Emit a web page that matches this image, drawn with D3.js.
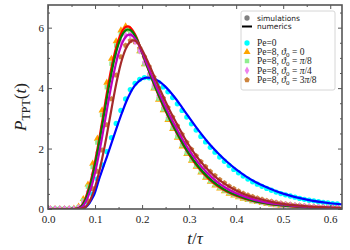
<!DOCTYPE html>
<html><head><meta charset="utf-8">
<script src="https://cdn.jsdelivr.net/npm/d3@7"></script>
<style>body{margin:0;background:#fff}svg{display:block}</style>
</head><body><svg id="c" width="350" height="250"></svg>
<script>
// ---------- data ----------
const tNum = [0,0.05,0.055,0.06,0.065,0.07,0.075,0.08,0.085,0.09,0.095,0.1,0.105,0.11,0.115,0.12,0.125,0.13,0.135,0.14,0.145,0.15,0.155,0.16,0.165,0.17,0.175,0.18,0.185,0.19,0.195,0.2,0.21,0.22,0.23,0.24,0.25,0.26,0.27,0.28,0.29,0.3,0.32,0.34,0.36,0.38,0.4,0.42,0.44,0.46,0.48,0.5,0.55,0.6,0.625];
const numPe0 = [0,0,0,0,0, 0.005,0.02,0.06,0.13,0.24,0.38,0.55,0.8,1.05,1.28, 1.5,1.72,1.95,2.18,2.41,2.64,2.87,3.09,3.3,3.5, 3.68,3.84,3.98,4.09,4.18,4.25,4.3, 4.35,4.34,4.28,4.18,4.04,3.87,3.68,3.47,3.25,3.03, 2.6,2.21,1.87,1.57,1.31,1.09,0.9,0.75,0.62,0.51, 0.31,0.19,0.15];
const numTh0 = [0,0,0,0.01,0.03, 0.09,0.2,0.37,0.6,0.87,1.2,1.57,1.98,2.42,2.88, 3.35,3.82,4.27,4.68,5.04,5.35,5.6,5.8,5.94,6.02, 6.04,6.0,5.91,5.78,5.61,5.4,5.18, 4.75,4.34,3.95,3.58,3.24,2.92,2.62,2.33,2.05,1.8, 1.36,1.02,0.77,0.58,0.44,0.33,0.25,0.19,0.14,0.11, 0.055,0.03,0.02];
const numTh1 = [0,0,0,0.005,0.025, 0.07,0.17,0.32,0.53,0.79,1.1,1.46,1.86,2.29,2.74, 3.2,3.66,4.1,4.51,4.88,5.2,5.46,5.67,5.82,5.91, 5.94,5.92,5.85,5.73,5.58,5.39,5.18, 4.76,4.36,3.97,3.61,3.27,2.95,2.65,2.36,2.08,1.83, 1.4,1.06,0.8,0.6,0.46,0.35,0.26,0.2,0.15,0.115, 0.06,0.03,0.022];
const numTh2 = [0,0,0,0,0.015, 0.045,0.11,0.23,0.4,0.62,0.89,1.2,1.56,1.95,2.37, 2.81,3.26,3.7,4.12,4.5,4.85,5.14,5.38,5.57,5.69, 5.76,5.77,5.73,5.64,5.52,5.37,5.2, 4.82,4.44,4.07,3.72,3.38,3.06,2.76,2.47,2.2,1.95, 1.52,1.17,0.89,0.68,0.52,0.4,0.3,0.23,0.18,0.14, 0.07,0.035,0.025];
const numTh3 = [0,0,0,0,0, 0.01,0.03,0.07,0.16,0.3,0.49,0.72,1.0,1.31,1.66, 2.04,2.45,2.88,3.31,3.74,4.14,4.5,4.82,5.08,5.29, 5.44,5.53,5.58,5.57,5.51,5.41,5.27, 4.95,4.6,4.24,3.89,3.55,3.23,2.93,2.64,2.36,2.1, 1.66,1.3,1.01,0.79,0.61,0.47,0.37,0.29,0.22,0.17, 0.09,0.05,0.035];

const tSim = [0.005,0.015,0.025,0.035,0.045,0.055,0.065,0.075,0.085,0.095,
  0.105,0.115,0.125,0.135,0.145,0.155,0.165,0.175,0.185,0.195,
  0.205,0.215,0.225,0.235,0.245,0.255,0.265,0.275,0.285,0.295,
  0.305,0.315,0.325,0.335,0.345,0.355,0.365,0.375,0.385,0.395,
  0.405,0.415,0.425,0.435,0.445,0.455,0.465,0.475,0.485,0.495,
  0.505,0.515,0.525,0.535,0.545,0.555,0.565,0.575,0.585,0.595,
  0.605,0.615];
const simPe0 = [0,0,0,0,0,0,0,0.05,0.22,0.5,
  1.0,1.46,1.9,2.36,2.83,3.26,3.64,3.95,4.16,4.29,
  4.35,4.34,4.29,4.19,4.04,3.88,3.69,3.48,3.26,3.04,
  2.82,2.61,2.4,2.22,2.04,1.88,1.72,1.58,1.44,1.31,
  1.2,1.09,0.99,0.9,0.82,0.75,0.68,0.62,0.56,0.51,
  0.47,0.43,0.39,0.35,0.32,0.29,0.27,0.24,0.22,0.2,
  0.18,0.165];
const simTh0 = [0,0,0,0,0,0.01,0.08,0.33,0.81,1.5,
  2.33,3.26,4.18,4.97,5.55,5.91,6.04,5.93,5.64,5.22,
  4.79,4.38,3.99,3.62,3.27,2.95,2.65,2.36,2.07,1.82,
  1.6,1.4,1.21,1.04,0.9,0.78,0.68,0.59,0.51,0.45,
  0.39,0.34,0.3,0.26,0.23,0.2,0.17,0.15,0.13,0.11,
  0.1,0.09,0.075,0.065,0.06,0.05,0.045,0.04,0.035,0.03,
  0.025,0.02];
const simTh1 = [0,0,0,0,0,0.005,0.06,0.28,0.74,1.39,
  2.2,3.11,4.03,4.81,5.41,5.79,5.94,5.86,5.61,5.22,
  4.8,4.4,4.01,3.65,3.3,2.98,2.68,2.39,2.11,1.85,
  1.63,1.43,1.24,1.07,0.93,0.81,0.7,0.61,0.53,0.47,
  0.41,0.36,0.31,0.27,0.24,0.21,0.18,0.16,0.14,0.12,
  0.105,0.09,0.08,0.07,0.06,0.055,0.048,0.042,0.036,0.032,
  0.027,0.023];
const simTh2 = [0,0,0,0,0,0,0.04,0.2,0.57,1.14,
  1.87,2.72,3.61,4.42,5.08,5.53,5.74,5.75,5.55,5.24,
  4.86,4.48,4.11,3.76,3.42,3.1,2.8,2.51,2.24,1.98,
  1.75,1.55,1.36,1.19,1.04,0.91,0.79,0.69,0.6,0.53,
  0.47,0.41,0.36,0.32,0.28,0.25,0.22,0.19,0.17,0.15,
  0.13,0.115,0.1,0.09,0.08,0.07,0.06,0.052,0.045,0.04,
  0.035,0.03];
const simTh3 = [0,0,0,0,0,0,0.01,0.06,0.27,0.67,
  1.24,1.95,2.78,3.64,4.43,5.03,5.41,5.57,5.53,5.31,
  5.03,4.71,4.36,4.01,3.67,3.35,3.04,2.75,2.47,2.2,
  1.97,1.76,1.57,1.4,1.24,1.1,0.97,0.86,0.76,0.67,
  0.59,0.52,0.46,0.41,0.36,0.32,0.28,0.25,0.22,0.19,
  0.17,0.15,0.13,0.12,0.1,0.09,0.08,0.07,0.06,0.055,
  0.05,0.045];

const xMajor = [0,0.1,0.2,0.3,0.4,0.5,0.6];
const xMinor = [0.05,0.15,0.25,0.35,0.45,0.55];
const yMajor = [0,2,4,6];
const yMinor = [0.5,1,1.5,2.5,3,3.5,4.5,5,5.5,6.5];

// ---------- drawing ----------
const svg = d3.select('#c');
const L=48,R=342,T=5,B=209;
const x = d3.scaleLinear().domain([0,0.625]).range([L,R]);
const y = d3.scaleLinear().domain([0,6.75]).range([B,T]);

svg.append('defs').append('clipPath').attr('id','clip')
  .append('rect').attr('x',L).attr('y',T-3).attr('width',R-L).attr('height',B-T+3);

const pentagon = {draw(ctx,size){
  const r=Math.sqrt(size/(2.5*Math.sin(2*Math.PI/5)));
  for(let i=0;i<5;i++){const a=-Math.PI/2+i*2*Math.PI/5;
    const px=r*Math.cos(a),py=r*Math.sin(a); i?ctx.lineTo(px,py):ctx.moveTo(px,py);}
  ctx.closePath();}};

const series = [
  {sim:simPe0, num:numPe0, mc:'#00ffff', lc:'#0000ff', sym:d3.symbolCircle, size:22},
  {sim:simTh0, num:numTh0, mc:'#ffa500', lc:'#ff0000', sym:d3.symbolTriangle, size:22},
  {sim:simTh1, num:numTh1, mc:'#90ee90', lc:'#008000', sym:d3.symbolSquare, size:20},
  {sim:simTh2, num:numTh2, mc:'#ee82ee', lc:'#bf00bf', sym:d3.symbolDiamond, size:18},
  {sim:simTh3, num:numTh3, mc:'#cd853f', lc:'#a52a2a', sym:pentagon, size:20}
];

const plot = svg.append('g').attr('clip-path','url(#clip)');
const markerOrder = [0,1,2,4,3];
markerOrder.forEach(i=>{
  const s=series[i];
  plot.append('g').selectAll('path').data(tSim.map((t,j)=>[t,s.sim[j]])).join('path')
    .attr('transform',d=>`translate(${x(d[0])},${y(d[1])})`)
    .attr('d',d3.symbol().type(s.sym).size(s.size))
    .attr('fill',s.mc);
});
const line = d3.line().x(d=>x(d[0])).y(d=>y(d[1])).curve(d3.curveMonotoneX);
series.forEach(s=>{
  plot.append('path').datum(tNum.map((t,j)=>[t,s.num[j]]))
    .attr('d',line).attr('fill','none').attr('stroke',s.lc).attr('stroke-width',2.2)
    .attr('stroke-linejoin','round');
});

// axes
const axCol='#555';
function styleAxis(g){g.select('.domain').remove();g.selectAll('.tick line').attr('stroke',axCol).attr('stroke-width',1);
  g.selectAll('text').attr('font-family','"Liberation Serif", serif').attr('font-size',11).attr('fill','#222');}
svg.append('g').attr('transform',`translate(0,${B})`)
  .call(d3.axisBottom(x).tickValues(xMajor).tickSize(-4).tickPadding(6.5).tickFormat(d3.format('.1f'))).call(styleAxis);
svg.append('g').attr('transform',`translate(0,${B})`)
  .call(d3.axisBottom(x).tickValues(xMinor).tickSize(-2).tickFormat('')).call(styleAxis);
svg.append('g').attr('transform',`translate(0,${T})`)
  .call(d3.axisTop(x).tickValues(xMajor).tickSize(-4).tickFormat('')).call(styleAxis);
svg.append('g').attr('transform',`translate(0,${T})`)
  .call(d3.axisTop(x).tickValues(xMinor).tickSize(-2).tickFormat('')).call(styleAxis);
svg.append('g').attr('transform',`translate(${L},0)`)
  .call(d3.axisLeft(y).tickValues(yMajor).tickSize(-4).tickPadding(4).tickFormat(d3.format('d'))).call(styleAxis);
svg.append('g').attr('transform',`translate(${L},0)`)
  .call(d3.axisLeft(y).tickValues(yMinor).tickSize(-2).tickFormat('')).call(styleAxis);
svg.append('g').attr('transform',`translate(${R},0)`)
  .call(d3.axisRight(y).tickValues(yMajor).tickSize(-4).tickFormat('')).call(styleAxis);
svg.append('g').attr('transform',`translate(${R},0)`)
  .call(d3.axisRight(y).tickValues(yMinor).tickSize(-2).tickFormat('')).call(styleAxis);
svg.append('rect').attr('x',L).attr('y',T).attr('width',R-L).attr('height',B-T)
  .attr('fill','none').attr('stroke',axCol).attr('stroke-width',1.6);

// axis labels
const yl = svg.append('text').attr('transform',`translate(26,${(T+B)/2}) rotate(-90)`)
  .attr('text-anchor','middle').attr('font-family','"Liberation Serif", serif').attr('font-size',17).attr('fill','#222');
yl.append('tspan').attr('font-style','italic').text('P');
yl.append('tspan').attr('font-size',12).attr('dy',3.5).text('TPT');
yl.append('tspan').attr('dy',-3.5).text('(');
yl.append('tspan').attr('font-style','italic').text('t');
yl.append('tspan').text(')');
const xl = svg.append('text').attr('x',(L+R)/2).attr('y',244).attr('text-anchor','middle')
  .attr('font-family','"Liberation Serif", serif').attr('font-size',17).attr('fill','#222');
xl.append('tspan').attr('font-style','italic').text('t');
xl.append('tspan').text('/');
xl.append('tspan').attr('font-style','italic').text('τ');

// legend
const lg = svg.append('g');
lg.append('rect').attr('x',241).attr('y',11).attr('width',94).attr('height',79).attr('rx',2)
  .attr('fill','#fff').attr('stroke','#ccc').attr('stroke-width',0.8);
const mx=247, tx=257;
lg.append('path').attr('transform',`translate(${mx},18)`).attr('d',d3.symbol().type(d3.symbolCircle).size(22)).attr('fill','#808080');
lg.append('text').attr('x',tx).attr('y',20.5).attr('font-family','"DejaVu Sans", sans-serif').attr('font-size',7.5).attr('fill','#222').text('simulations');
lg.append('line').attr('x1',mx-5).attr('x2',mx+5).attr('y1',26.5).attr('y2',26.5).attr('stroke','#000').attr('stroke-width',2);
lg.append('text').attr('x',tx).attr('y',29).attr('font-family','"DejaVu Sans", sans-serif').attr('font-size',7.5).attr('fill','#222').text('numerics');
const entries = [
  {s:series[0], y:43, lab:null},
  {s:series[1], y:52, lab:'0'},
  {s:series[2], y:61, lab:'π/8'},
  {s:series[3], y:70.5, lab:'π/4'},
  {s:series[4], y:80, lab:'3π/8'}
];
entries.forEach(e=>{
  lg.append('path').attr('transform',`translate(${mx},${e.y})`).attr('d',d3.symbol().type(e.s.sym).size(e.s.size)).attr('fill',e.s.mc);
  const t = lg.append('text').attr('x',tx).attr('y',e.y+3).attr('font-family','"Liberation Serif", serif').attr('font-size',9.5).attr('fill','#222');
  if(!e.lab){t.text('Pe=0');return;}
  t.append('tspan').text('Pe=8, ');
  t.append('tspan').attr('font-style','italic').text('ϑ');
  t.append('tspan').attr('font-size',7).attr('dy',2).text('0');
  t.append('tspan').attr('dy',-2).text(' = ');
  const m = e.lab.match(/^(\d*)(π)?(\/\d+)?$/);
  if(m[1]) t.append('tspan').text(m[1]);
  if(m[2]) t.append('tspan').attr('font-style','italic').text('π');
  if(m[3]) t.append('tspan').text(m[3]);
});
</script>
</body></html>
